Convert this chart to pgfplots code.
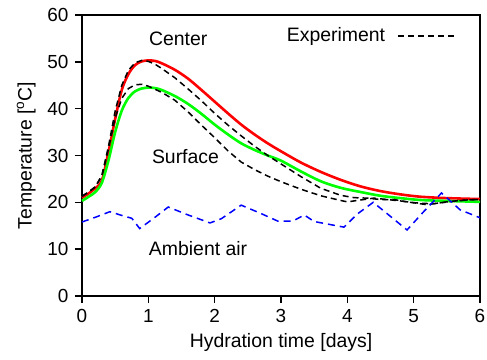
\documentclass[border=0pt]{standalone}
\usepackage{fontspec}
\setmainfont{Liberation Sans}
\usepackage{pgfplots}
\pgfplotsset{compat=1.18}
\begin{document}
\fontsize{19.5}{23}\selectfont
\begin{tikzpicture}
\begin{axis}[
  at={(0,0)}, anchor=south west,
  scale only axis, width=398bp, height=281bp,
  xmin=0, xmax=6, ymin=0, ymax=60,
  xtick={0,1,2,3,4,5,6}, ytick={0,10,20,30,40,50,60},
  axis x line*=bottom, axis y line*=left,
  tick align=outside, major tick length=7bp,
  every tick/.style={line width=1.6bp, black},
  axis line style={line width=1.6bp},
  /pgf/number format/assume math mode=true,
  ticklabel style={font=\fontsize{19}{22}\selectfont},
  label style={font=\fontsize{19.5}{23}\selectfont},
  xlabel={Hydration time [days]},
  ylabel={Temperature [\textsuperscript{o}C]},
  xlabel style={at={(axis description cs:0.5,-0.185)}, anchor=base},
  ylabel style={at={(axis description cs:-0.14,0.5)}, anchor=center},
  legend style={at={(axis cs:5.62,55.5)}, anchor=east, draw=none, fill=none, inner sep=0pt, font=\fontsize{19.5}{23}\selectfont},
  legend plot pos=right,
  legend cell align=right,
  legend image code/.code={\path (0bp,0bp); \draw[#1] (10bp,0bp) -- (66bp,0bp);},
  clip=false,
]
% frame top and right
\draw[line width=1.6bp] (rel axis cs:0,1) -- (rel axis cs:1,1) -- (rel axis cs:1,0);
% Center simulation (red)
\addplot[red, line width=2.6bp, smooth, forget plot] coordinates {
(0,21.0) (0.1,21.9) (0.2,23.0) (0.3,24.7) (0.4,30.8) (0.5,37.8) (0.6,44.0) (0.7,47.4)
(0.8,49.3) (0.9,50.1) (1.0,50.3) (1.1,50.2) (1.2,49.7) (1.4,48.3) (1.6,46.4) (1.8,44.0)
(2.0,41.5) (2.2,39.0) (2.4,36.6) (2.6,34.5) (2.8,32.6) (3.0,30.9) (3.3,28.5) (3.6,26.5)
(3.9,24.8) (4.2,23.4) (4.5,22.4) (4.8,21.7) (5.1,21.2) (5.5,20.9) (6.0,20.7)};
% Surface simulation (green)
\addplot[green, line width=2.6bp, smooth, forget plot] coordinates {
(0,20.3) (0.1,21.2) (0.2,22.2) (0.3,24.2) (0.4,29.0) (0.5,35.0) (0.6,39.6) (0.7,42.3)
(0.8,43.7) (0.9,44.3) (1.0,44.5) (1.1,44.4) (1.2,44.0) (1.4,42.7) (1.6,41.0) (1.8,38.9)
(2.0,36.6) (2.2,34.5) (2.4,32.6) (2.6,31.2) (2.8,30.0) (3.0,28.9) (3.3,26.6) (3.6,24.5)
(3.9,23.1) (4.2,22.2) (4.5,21.4) (4.8,20.9) (5.1,20.5) (5.5,20.3) (6.0,20.1)};
% Center experiment (black dashed)
\addplot[black, line width=1.5bp, dash pattern=on 6bp off 4bp] coordinates {
(0,21.3) (0.1,22.2) (0.2,23.3) (0.3,25.8) (0.4,32.0) (0.5,39.5) (0.6,45.0) (0.7,48.2)
(0.8,49.8) (0.9,50.3) (1.0,50.1) (1.1,49.5) (1.2,48.6) (1.4,46.6) (1.6,44.2) (1.8,41.7)
(2.0,39.0) (2.2,36.5) (2.4,34.2) (2.6,32.0) (2.8,30.0) (3.0,28.2) (3.3,25.5) (3.6,23.0)
(3.9,21.5) (4.1,21.0) (4.3,20.9) (4.5,20.6) (4.7,20.6) (4.9,20.1) (5.1,19.8) (5.3,19.7)
(5.5,20.1) (5.7,20.4) (5.9,20.6) (6.0,20.6)};
\addlegendentry{Experiment}
% Surface experiment (black dashed)
\addplot[black, line width=1.5bp, dash pattern=on 6bp off 4bp, forget plot] coordinates {
(0,21.3) (0.1,22.2) (0.2,23.3) (0.3,25.6) (0.4,31.5) (0.5,38.0) (0.6,42.2) (0.7,44.3)
(0.8,45.1) (0.9,45.2) (1.0,44.8) (1.2,43.5) (1.4,41.8) (1.6,39.3) (1.8,36.5) (2.0,33.8)
(2.2,31.0) (2.4,28.6) (2.6,27.0) (2.8,25.6) (3.0,24.4) (3.3,22.8) (3.6,21.4) (3.9,20.4)
(4.0,20.1) (4.2,20.5) (4.4,20.9) (4.6,20.6) (4.8,20.3) (5.0,19.9) (5.2,19.5) (5.4,19.9)
(5.6,20.2) (5.8,20.5) (6.0,20.6)};
% Ambient air (blue dashed)
\addplot[blue, line width=1.5bp, dash pattern=on 7bp off 5bp, forget plot] coordinates {
(0,15.8) (0.2,16.8) (0.42,18.0) (0.6,17.2) (0.75,16.6) (0.87,14.4) (1.1,16.8) (1.3,19.0)
(1.6,17.3) (1.93,15.6) (2.1,16.5) (2.4,19.4) (2.7,17.6) (2.95,16.0) (3.18,16.0) (3.35,17.3)
(3.5,15.9) (3.95,14.7) (4.15,17.5) (4.39,20.0) (4.65,17.0) (4.9,14.1) (5.15,18.0) (5.42,22.0)
(5.7,18.4) (6.0,16.7)};
\node[font=\fontsize{19.5}{23}\selectfont] at (axis cs:1.45,55.0) {Center};
\node[font=\fontsize{19.5}{23}\selectfont] at (axis cs:1.56,29.8) {Surface};
\node[font=\fontsize{19.5}{23}\selectfont] at (axis cs:1.75,10.2) {Ambient air};
\end{axis}
\pgfresetboundingbox
\path (-82bp,-64bp) rectangle (405bp,296bp);
\end{tikzpicture}
\end{document}
